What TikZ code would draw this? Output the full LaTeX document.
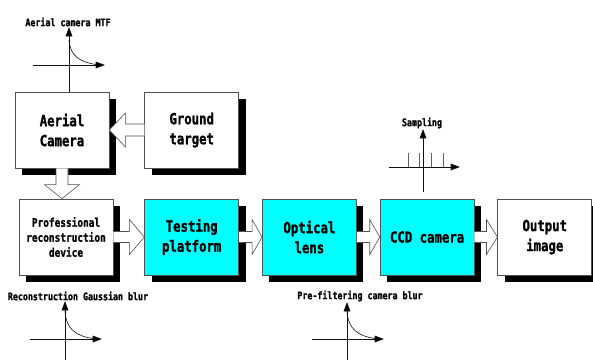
\documentclass[tikz,border=0pt]{standalone}
\usepackage{fontspec}
\usetikzlibrary{arrows.meta,positioning,calc,shadows}
\newfontfamily\monofont{DejaVu Sans Mono}[FakeStretch=0.8, BoldFeatures={FakeBold=1.2}]
\definecolor{frame}{HTML}{505050}
\definecolor{axisline}{HTML}{101010}
\definecolor{pulse}{HTML}{606060}
\definecolor{stage}{HTML}{00FFFF}
\tikzset{
  block/.style={
    draw=frame, fill=white, line width=0.7pt,
    minimum width=94pt, minimum height=76pt, inner sep=2pt,
    align=center, font=\monofont\bfseries\fontsize{15.4}{20}\selectfont,
    drop shadow={shadow xshift=7pt, shadow yshift=-7pt, fill=black, opacity=1}
  },
  stagebox/.style={block, fill=stage},
  hollow/.style={draw=frame, fill=white, line width=0.6pt, line join=miter},
  axisline/.style={draw=axisline, line width=0.6pt},
  tipup/.pic={\fill[axisline] (0,0) -- (-3,8) -- (3,8) -- cycle;},
  tipright/.pic={\fill[axisline] (0,0) -- (-8,-3) -- (-8,3) -- cycle;},
  tag/.style={font=\monofont\bfseries\fontsize{10.4}{12}\selectfont, inner sep=1pt}
}
\begin{document}
\begin{tikzpicture}[x=1pt, y=-1pt, node distance=23pt]
  \useasboundingbox (0,0) rectangle (593,360);
  % blocks
  \node[block] (aerial) at (62,130) {Aerial\\Camera};
  \node[block, right=35pt of aerial] (ground) {Ground\\target};
  \node[block, font=\monofont\bfseries\fontsize{11.8}{15}\selectfont] (prof) at (66,237)
    {Professional\\reconstruction\\device};
  \node[stagebox, right=31pt of prof] (testing) {Testing\\platform};
  \node[stagebox, right=of testing] (optical) {Optical\\lens};
  \node[stagebox, right=of optical] (ccd) {CCD camera};
  \node[block, right=of ccd] (output) {Output\\image};
  % hollow arrows along the bottom row
  \foreach \a/\b/\h in {prof/testing/15, testing/optical/10, optical/ccd/10, ccd/output/11}
    \draw[hollow] ($(\a.east)+(0,-5.5)$) -- ($(\b.west)+(-\h,-5.5)$)
      -- ($(\b.west)+(-\h,-17.5)$) -- (\b.west) -- ($(\b.west)+(-\h,17.5)$)
      -- ($(\b.west)+(-\h,5.5)$) -- ($(\a.east)+(0,5.5)$);
  \draw[hollow] ($(ground.west)+(0,-6)$) -- ($(aerial.east)+(16,-6)$)
    -- ($(aerial.east)+(16,-17)$) -- (aerial.east) -- ($(aerial.east)+(16,17)$)
    -- ($(aerial.east)+(16,6)$) -- ($(ground.west)+(0,6)$);
  \coordinate (drop) at (aerial.south |- prof.north);
  \draw[hollow] ($(aerial.south)+(-6,0)$) -- ($(drop)+(-6,-14)$)
    -- ($(drop)+(-17.5,-14)$) -- (drop) -- ($(drop)+(17.5,-14)$)
    -- ($(drop)+(6,-14)$) -- ($(aerial.south)+(6,0)$);
  % aerial camera MTF
  \coordinate (mtf0) at (69,65);
  \draw[axisline] (mtf0 |- aerial.north) -- (69,30);
  \draw[axisline] (33,65) -- (101,65);
  \pic at (69,28) {tipup};
  \pic at (104,65) {tipright};
  \draw[axisline] (69,40) .. controls (70,56) and (80,62) .. (96,64.5);
  \node[tag] (mtf) at (68,22) {Aerial camera MTF};
  % sampling
  \draw[axisline] (423,192) -- (423,132);
  \draw[axisline] (389,167) -- (456,167);
  \pic at (423,130) {tipup};
  \pic at (459,167) {tipright};
  \foreach \p in {408,419,431,443}
    \draw[pulse, line width=0.8pt] (\p,167) -- (\p,153);
  \node[tag] (samp) at (422,123) {Sampling};
  % reconstruction blur
  \draw[axisline] (65,360) -- (65,304);
  \draw[axisline] (30,339) -- (98,339);
  \pic at (65,302) {tipup};
  \pic at (101,339) {tipright};
  \draw[axisline] (65,311) .. controls (66,329) and (76,336) .. (93,338.5);
  \node[tag] (recon) at (78,296) {Reconstruction Gaussian blur};
  % pre-filtering blur
  \draw[axisline] (347,360) -- (347,305);
  \draw[axisline] (312,339) -- (380,339);
  \pic at (347,303) {tipup};
  \pic at (383,339) {tipright};
  \draw[axisline] (347,311) .. controls (348,329) and (358,336) .. (375,338.5);
  \node[tag] (prefilt) at (360,296) {Pre-filtering camera blur};
\end{tikzpicture}
\end{document}
